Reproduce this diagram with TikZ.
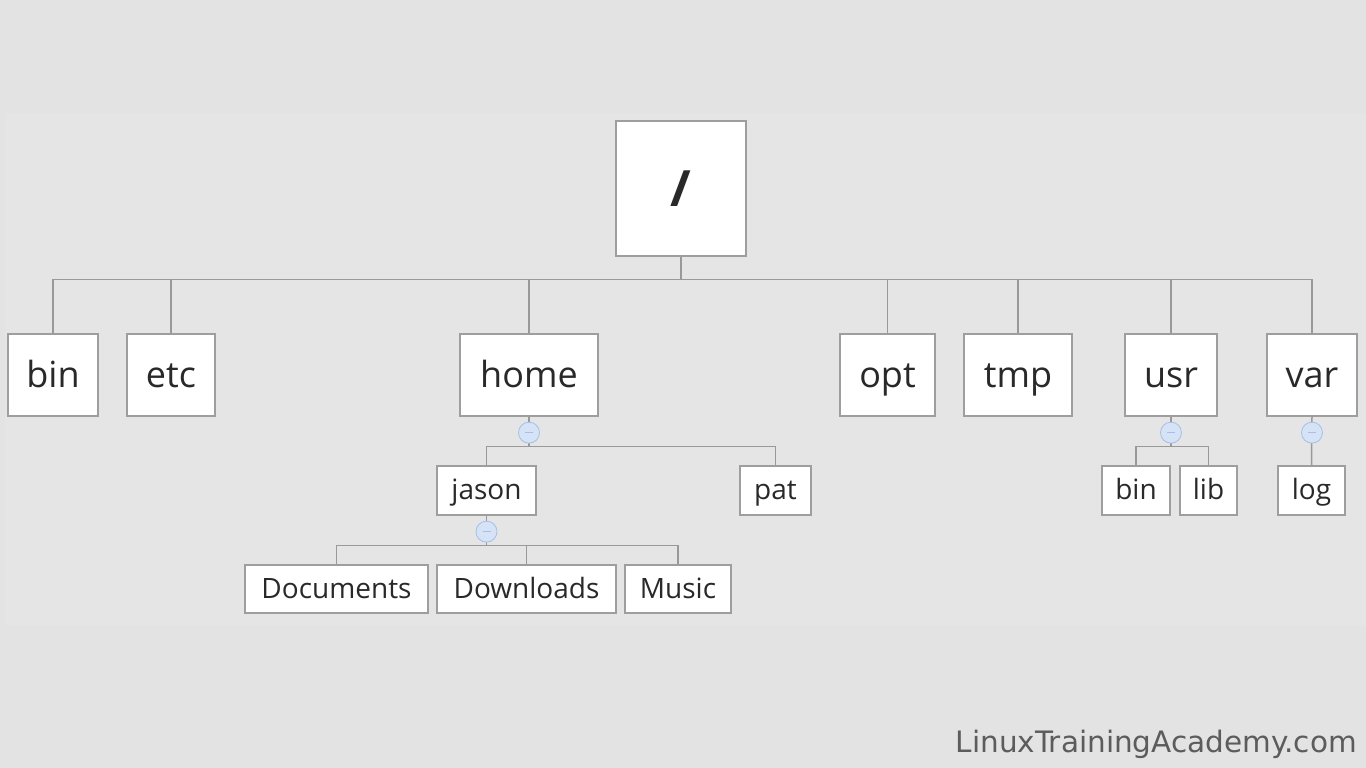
\documentclass[tikz,border=0pt]{standalone}
\usepackage{fontspec}
\setmainfont{Open Sans}
\newfontfamily\markfont{DejaVu Sans}
\begin{document}
\begin{tikzpicture}[x=1pt,y=-1pt,
  dirbox/.style={draw=kBorder,fill=white,line width=1.3pt,inner sep=0pt,text=kText,font=\fontsize{36}{40}\selectfont,text height=30pt,text depth=6pt},
  subbox/.style={dirbox,font=\fontsize{28}{32}\selectfont,text height=23pt,text depth=5pt},
  link/.style={draw=kLine,line width=1.5pt},
  fold/.style={circle,draw=kFoldLine,fill=kFold,line width=0.8pt,minimum size=21pt,inner sep=0pt},
  foldmark/.style={draw=kFoldLine,line width=1.2pt}]
  % colors
  \definecolor{kBack}{rgb}{0.89,0.89,0.89}
  \definecolor{kPanel}{rgb}{0.9,0.9,0.9}
  \definecolor{kBorder}{rgb}{0.62,0.62,0.62}
  \definecolor{kLine}{rgb}{0.6,0.6,0.6}
  \definecolor{kText}{rgb}{0.16,0.16,0.16}
  \definecolor{kFold}{rgb}{0.84,0.89,0.97}
  \definecolor{kFoldLine}{rgb}{0.64,0.75,0.92}
  \definecolor{kMark}{rgb}{0.36,0.36,0.36}
  % background
  \fill[kBack] (0,0) rectangle (1366,768);
  \fill[kPanel] (5,113) rectangle (1366,625);
  \useasboundingbox (0,0) rectangle (1366,768);
  % root
  \node[dirbox,minimum width=130pt,minimum height=135pt,font=\fontsize{50}{56}\bfseries\selectfont,text height=36pt,text depth=0pt] (root) at (681,188.5) {/};
  % first level
  \node[dirbox,minimum width=90pt,minimum height=82pt] (bin) at (53,375) {bin};
  \node[dirbox,minimum width=88pt,minimum height=82pt] (etc) at (171,375) {etc};
  \node[dirbox,minimum width=138pt,minimum height=82pt] (home) at (529,375) {home};
  \node[dirbox,minimum width=95pt,minimum height=82pt] (opt) at (887.5,375) {opt};
  \node[dirbox,minimum width=108pt,minimum height=82pt] (tmp) at (1018,375) {tmp};
  \node[dirbox,minimum width=92pt,minimum height=82pt] (usr) at (1171,375) {usr};
  \node[dirbox,minimum width=90pt,minimum height=82pt] (var) at (1312,375) {var};
  % second level
  \node[subbox,minimum width=99pt,minimum height=49pt] (jason) at (486.5,490.5) {jason};
  \node[subbox,minimum width=71pt,minimum height=49pt] (pat) at (775.5,490.5) {pat};
  \node[subbox,minimum width=68pt,minimum height=49pt] (usrbin) at (1136,490.5) {bin};
  \node[subbox,minimum width=57pt,minimum height=49pt] (lib) at (1208.5,490.5) {lib};
  \node[subbox,minimum width=67pt,minimum height=49pt] (log) at (1311.5,490.5) {log};
  % third level
  \node[subbox,minimum width=183pt,minimum height=48pt] (docs) at (336.5,589) {Documents};
  \node[subbox,minimum width=179pt,minimum height=48pt] (down) at (526.5,589) {Downloads};
  \node[subbox,minimum width=106pt,minimum height=48pt] (music) at (678,589) {Music};
  % connectors
  \foreach \n in {bin,etc,home,opt,tmp,usr,var}
    \draw[link] (root.south) -- ++(0,23) -| (\n.north);
  \foreach \p/\c in {home/jason, home/pat, jason/docs, jason/down, jason/music, usr/usrbin, usr/lib}
    \draw[link] (\p.south) -- ++(0,30) -| (\c.north);
  \draw[link] (var.south) -- (log.north);
  % fold buttons
  \foreach \p in {home,jason,usr,var} {
    \node[fold] (\p fold) at ([yshift=-16pt]\p.south) {};
    \draw[foldmark] ([xshift=-4pt]\p fold.center) -- ([xshift=4pt]\p fold.center);
  }
  % watermark
  \node[anchor=base east,inner sep=0pt,text=kMark,font=\markfont\fontsize{29.5}{31}\selectfont] (mark) at (1357,752) {LinuxTrainingAcademy.com};
\end{tikzpicture}
\end{document}
